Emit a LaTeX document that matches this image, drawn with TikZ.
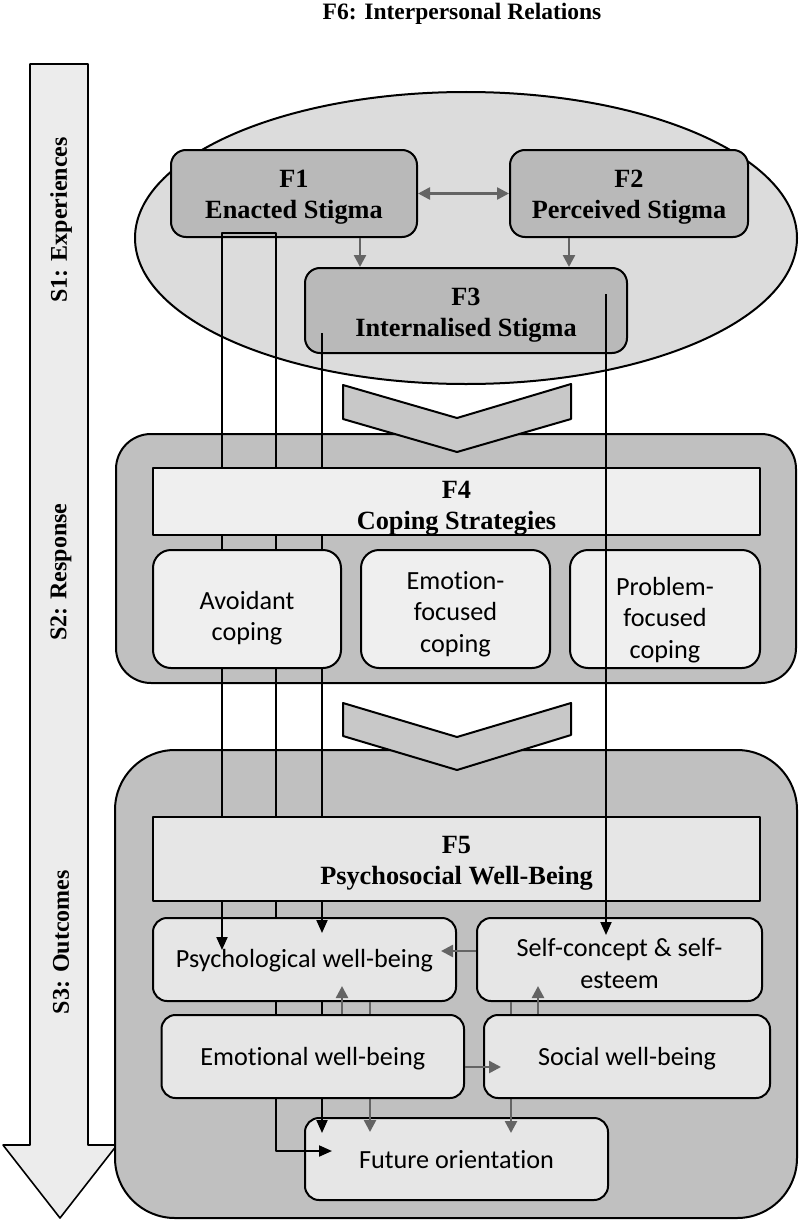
\documentclass[tikz,border=0pt]{standalone}
\usepackage{fontspec}
\setmainfont{Liberation Serif}
\newfontfamily\sansf[Ligatures={NoCommon,NoContextual,NoRequired}]{Carlito}
\usetikzlibrary{arrows.meta,calc}
\definecolor{ellfill}{HTML}{DCDCDC}
\definecolor{fboxc}{HTML}{B9B9B9}
\definecolor{contfill}{HTML}{C0C0C0}
\definecolor{hdrA}{HTML}{EFEFEF}
\definecolor{hdrB}{HTML}{E6E6E6}
\definecolor{chevc}{HTML}{C8C8C8}
\definecolor{sarrow}{HTML}{ECECEC}
\definecolor{garr}{HTML}{646464}
\begin{document}
\begin{tikzpicture}[x=1pt,y=-1pt,line join=round,
  fbx/.style={draw,line width=2pt,fill=fboxc,rounded corners=15pt,inner sep=0pt},
  cont/.style={draw,line width=2pt,fill=contfill},
  hdrbox/.style={draw,line width=2pt,inner sep=0pt},
  btext/.style={inner sep=0pt,font=\fontsize{26.3}{31}\selectfont\bfseries,align=center},
  subA/.style={draw,line width=2pt,fill=hdrA,rounded corners=18pt,inner sep=0pt},
  subB/.style={draw,line width=2pt,fill=hdrB,rounded corners=14pt,inner sep=0pt},
  stext/.style={inner sep=0pt,font=\sansf\fontsize{26.2}{31.5}\selectfont,align=center},
  slabel/.style={inner sep=0pt,rotate=90,font=\fontsize{24}{28}\selectfont\bfseries},
  blk/.style={line width=2pt},
  barrow/.style={line width=2pt,-{Triangle[length=13pt,width=11pt]}},
  garrow/.style={draw=garr,line width=2.5pt,-{Triangle[length=12pt,width=12pt]},fill=garr},
  chevron/.style={draw,line width=2pt,fill=chevc}]
\useasboundingbox (0,0) rectangle (798,1220);
% title
\node[inner sep=0pt,font=\fontsize{23.5}{28}\selectfont\bfseries] (title) at (462,14) {F6: Interpersonal Relations};
% stage arrow
\draw[line width=1.6pt,fill=sarrow] (30,64) -- (88,64) -- (88,1145) -- (117,1145) -- (60,1218) -- (3,1145) -- (30,1145) -- cycle;
\node[slabel] (s1) at (61,220) {S1: Experiences};
\node[slabel] (s2) at (61,572) {S2: Response};
\node[slabel] (s3) at (61,942) {S3: Outcomes};
% ellipse
\draw[line width=2pt,fill=ellfill] (466,238) ellipse [x radius=331,y radius=146];
\node[fbx,minimum width=246pt,minimum height=87pt] (f1) at (294,193.5) {};
\node[btext] (f1t) at ([yshift=-4pt]f1.center) {F1\\Enacted Stigma};
\node[fbx,minimum width=238pt,minimum height=87pt] (f2) at (629,193.5) {};
\node[btext] (f2t) at ([yshift=-4pt]f2.center) {F2\\Perceived Stigma};
\node[fbx,minimum width=322pt,minimum height=85pt] (f3) at (466,310.5) {};
\node[btext] (f3t) at ([yshift=-5pt]f3.center) {F3\\Internalised Stigma};
\coordinate (g1) at (360,0);
\coordinate (g2) at (569,0);
\draw[garrow] (f1.south -| g1) -- (f3.north -| g1);
\draw[garrow] (f2.south -| g2) -- (f3.north -| g2);
\draw[draw=garr,fill=garr,line width=2.5pt,{Triangle[length=12pt,width=12pt]}-{Triangle[length=12pt,width=12pt]}] (f1.east) -- (f2.west);
% containers
\draw[cont,rounded corners=35pt] (116,434) rectangle (796,683);
\draw[cont,rounded corners=60pt] (115,750) rectangle (797,1218);
% chevrons
\draw[chevron] (343,385) -- (457,418) -- (571,384) -- (571,419) -- (457,452) -- (343,419) -- cycle;
\draw[chevron] (343,703) -- (457,737) -- (571,703) -- (571,735) -- (457,770) -- (343,736) -- cycle;
% black connector lines (behind inner boxes)
\coordinate (ka) at (222,233);
\coordinate (kb) at (276,233);
\coordinate (kc) at (322,333);
\coordinate (kd) at (606,294);
\coordinate (ta) at (222,950);
\coordinate (tb) at (276,1151);
\coordinate (tbe) at (332,1151);
\coordinate (tc1) at (322,933);
\coordinate (tc2) at (322,1133);
\coordinate (td) at (606,935);
\draw[blk] (ta) -- (ka) -- (kb) -- (tb) -- (tbe);
\draw[blk] (kc) -- (tc2);
% F4 boxes
\node[hdrbox,fill=hdrA,minimum width=607pt,minimum height=67pt] (f4h) at (456.5,501.5) {};
\node[btext] (f4t) at ([yshift=-7pt]f4h.center) {F4\\Coping Strategies};
\node[subA,minimum width=188pt,minimum height=118pt] (avo) at (247,609) {};
\node[stext] (avot) at ([yshift=-9pt]avo.center) {Avoidant\\coping};
\node[subA,minimum width=189pt,minimum height=118pt] (emf) at (455.5,609) {};
\node[stext] (emft) at ([yshift=-5pt]emf.center) {Emotion-\\focused\\coping};
\node[subA,minimum width=190pt,minimum height=118pt] (prf) at (665,609) {};
\node[stext] (prft) at ([yshift=-11pt]prf.center) {Problem-\\focused\\coping};
% F5 boxes
\node[hdrbox,fill=hdrB,minimum width=607pt,minimum height=84pt] (f5h) at (456.5,859) {};
\node[btext] (f5t) at ([yshift=-4pt]f5h.center) {F5\\Psychosocial Well-Being};
\node[subB,minimum width=303pt,minimum height=83pt] (psy) at (304.5,959.5) {};
\node[stext] (psyt) at ([yshift=-1pt]psy.center) {Psychological well-being};
\node[subB,minimum width=285pt,minimum height=83pt] (slf) at (619.5,959.5) {};
\node[stext] (slft) at ([yshift=-4pt]slf.center) {Self-concept \& self-\\esteem};
\node[subB,minimum width=303pt,minimum height=82pt] (fut) at (456.5,1159) {};
\node[stext] (futt) at ([yshift=-1pt]fut.center) {Future orientation};
\coordinate (g3) at (370,0);
\coordinate (g4) at (511,0);
\coordinate (g5) at (342,0);
\coordinate (g6) at (538,0);
\draw[garrow] (psy.south -| g3) -- ([yshift=-15pt]fut.north -| g3);
\draw[garrow] (slf.south -| g4) -- ([yshift=-16pt]fut.north -| g4);
\node[subB,minimum width=302.5pt,minimum height=83pt] (emo) at (312.75,1056.5) {};
\node[stext] (emot) at ([yshift=-2pt]emo.center) {Emotional well-being};
\node[subB,minimum width=286pt,minimum height=83pt] (soc) at (627,1056.5) {};
\node[stext] (soct) at ([yshift=-2pt]soc.center) {Social well-being};
% gray arrows between outcome boxes
\coordinate (g7) at (0,951);
\coordinate (g8) at (0,1067);
\draw[garrow] (slf.west |- g7) -- ([xshift=-16pt]psy.east |- g7);
\draw[garrow] (emo.north -| g5) -- ([yshift=16pt]psy.south -| g5);
\draw[garrow] (soc.north -| g6) -- ([yshift=16pt]slf.south -| g6);
\draw[garrow] (emo.east |- g8) -- ([xshift=18pt]soc.west |- g8);
% black arrow heads over boxes
\draw[barrow] (f5h.south -| ta) -- (ta);
\draw[barrow] (f5h.south -| tc1) -- (tc1);
\draw[barrow] (emo.south -| tc2) -- (tc2);
\draw[barrow] (tb) -- (tbe);
\draw[barrow] (kd) -- (td);
\end{tikzpicture}
\end{document}
